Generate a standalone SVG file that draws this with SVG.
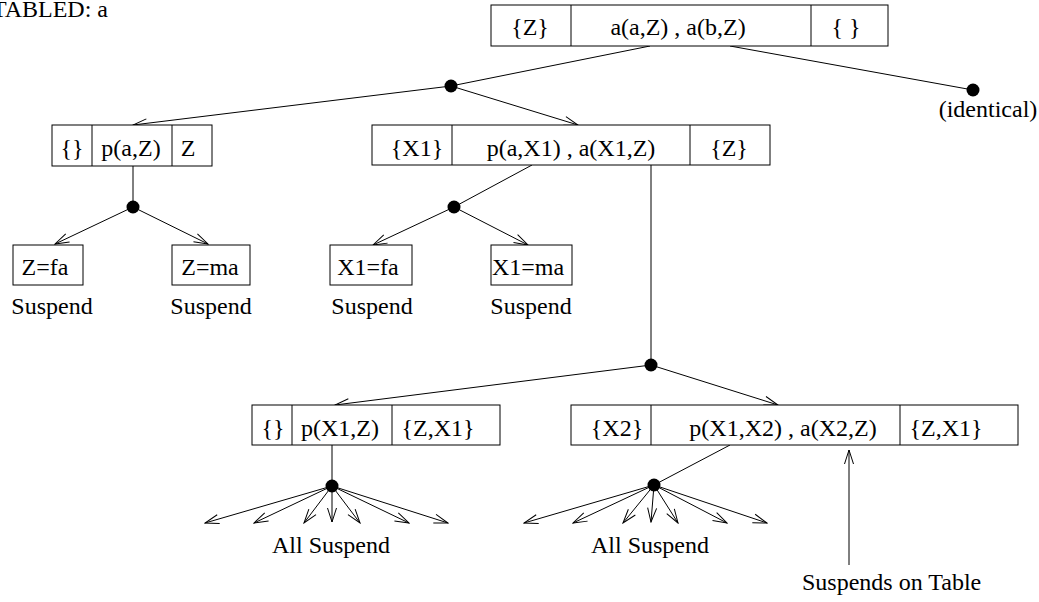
<svg xmlns="http://www.w3.org/2000/svg" width="1039" height="602" viewBox="0 0 1039 602" font-family="'Liberation Serif', 'Times New Roman', serif" font-size="24">
  <defs>
    <marker id="open-arrow" viewBox="-15 -6 16 12" refX="0" refY="0" markerWidth="16" markerHeight="12" markerUnits="userSpaceOnUse" orient="auto">
      <path d="M-14,-4.5 L0,0 L-14,4.5" fill="none" stroke="#000" stroke-width="1"/>
    </marker>
  </defs>
  <style>
    text { font-family: 'Liberation Serif', 'Times New Roman', serif; font-size: 24px; fill: #000; }
    .c { text-anchor: middle; }
    .box { fill: #fff; stroke: #000; stroke-width: 1; }
    .div { stroke: #000; stroke-width: 1; }
    .edge { stroke: #000; stroke-width: 1; fill: none; }
    .arrow { stroke: #000; stroke-width: 1; fill: none; marker-end: url(#open-arrow); }
    .dot { fill: #000; }
  </style>
  <rect width="1039" height="602" fill="#fff"/>

  <text x="108" y="17" text-anchor="end">TABLED: a</text>

  <!-- connectors -->
  <g id="connectors">
    <line class="edge" x1="650" y1="46" x2="451" y2="86"/>
    <line class="edge" x1="730" y1="46" x2="973" y2="90"/>
    <line class="arrow" x1="451" y1="86" x2="133" y2="125"/>
    <line class="arrow" x1="451" y1="86" x2="578" y2="125"/>

    <line class="edge" x1="133" y1="166" x2="133" y2="207"/>
    <line class="arrow" x1="133" y1="207" x2="55" y2="244"/>
    <line class="arrow" x1="133" y1="207" x2="208" y2="244"/>

    <line class="edge" x1="532" y1="165" x2="454" y2="207"/>
    <line class="arrow" x1="454" y1="207" x2="373" y2="245"/>
    <line class="arrow" x1="454" y1="207" x2="528" y2="245"/>

    <line class="edge" x1="651" y1="165" x2="651" y2="365"/>
    <line class="arrow" x1="651" y1="365" x2="335" y2="405"/>
    <line class="arrow" x1="651" y1="365" x2="778" y2="405"/>

    <line class="edge" x1="332" y1="445" x2="332" y2="486"/>
    <line class="arrow" x1="332" y1="486" x2="205" y2="523"/>
    <line class="arrow" x1="332" y1="486" x2="254" y2="523"/>
    <line class="arrow" x1="332" y1="486" x2="304" y2="523"/>
    <line class="arrow" x1="332" y1="486" x2="332" y2="522"/>
    <line class="arrow" x1="332" y1="486" x2="360" y2="523"/>
    <line class="arrow" x1="332" y1="486" x2="409" y2="523"/>
    <line class="arrow" x1="332" y1="486" x2="448" y2="523"/>

    <line class="edge" x1="730" y1="445" x2="654" y2="485"/>
    <line class="arrow" x1="654" y1="485" x2="524" y2="523"/>
    <line class="arrow" x1="654" y1="485" x2="573" y2="523"/>
    <line class="arrow" x1="654" y1="485" x2="623" y2="523"/>
    <line class="arrow" x1="654" y1="485" x2="651" y2="522"/>
    <line class="arrow" x1="654" y1="485" x2="678" y2="523"/>
    <line class="arrow" x1="654" y1="485" x2="727" y2="523"/>
    <line class="arrow" x1="654" y1="485" x2="767" y2="523"/>

    <line class="arrow" x1="849" y1="565" x2="849" y2="450"/>

    <circle class="dot" cx="451" cy="86" r="6.5"/>
    <circle class="dot" cx="973" cy="90" r="6.5"/>
    <circle class="dot" cx="133" cy="207" r="6.5"/>
    <circle class="dot" cx="454" cy="207" r="6.5"/>
    <circle class="dot" cx="651" cy="365" r="6.5"/>
    <circle class="dot" cx="332" cy="486" r="6.5"/>
    <circle class="dot" cx="654" cy="485" r="6.5"/>
  </g>

  <!-- root goal -->
  <g id="root">
    <rect class="box" x="491" y="5" width="397" height="41"/>
    <line class="div" x1="571" y1="5" x2="571" y2="46"/>
    <line class="div" x1="811" y1="5" x2="811" y2="46"/>
    <text class="c" x="530" y="35">{Z}</text>
    <text class="c" x="678" y="35">a(a,Z) , a(b,Z)</text>
    <text class="c" x="846" y="35">{ }</text>
  </g>

  <g id="identical">
    <text class="c" x="988" y="117">(identical)</text>
  </g>

  <!-- second level -->
  <g id="goal-paZ">
    <rect class="box" x="52" y="125" width="160" height="41"/>
    <line class="div" x1="92" y1="125" x2="92" y2="166"/>
    <line class="div" x1="172" y1="125" x2="172" y2="166"/>
    <text class="c" x="72" y="156">{}</text>
    <text class="c" x="131" y="156">p(a,Z)</text>
    <text class="c" x="188" y="156">Z</text>
  </g>

  <g id="goal-paX1">
    <rect class="box" x="372" y="125" width="398" height="40"/>
    <line class="div" x1="452" y1="125" x2="452" y2="165"/>
    <line class="div" x1="690" y1="125" x2="690" y2="165"/>
    <text class="c" x="417" y="156">{X1}</text>
    <text class="c" x="571" y="156">p(a,X1) , a(X1,Z)</text>
    <text class="c" x="729" y="156">{Z}</text>
  </g>

  <!-- answers -->
  <g id="ans-Zfa">
    <rect class="box" x="13" y="245" width="70" height="40"/>
    <text class="c" x="45" y="275">Z=fa</text>
    <text class="c" x="52" y="314">Suspend</text>
  </g>
  <g id="ans-Zma">
    <rect class="box" x="172" y="245" width="78" height="40"/>
    <text class="c" x="210" y="275">Z=ma</text>
    <text class="c" x="211" y="314">Suspend</text>
  </g>
  <g id="ans-X1fa">
    <rect class="box" x="330" y="245" width="82" height="40"/>
    <text class="c" x="368" y="275">X1=fa</text>
    <text class="c" x="372" y="314">Suspend</text>
  </g>
  <g id="ans-X1ma">
    <rect class="box" x="491" y="245" width="81" height="40"/>
    <text class="c" x="528" y="275">X1=ma</text>
    <text class="c" x="531" y="314">Suspend</text>
  </g>

  <!-- third level -->
  <g id="goal-pX1Z">
    <rect class="box" x="252" y="405" width="248" height="40"/>
    <line class="div" x1="292" y1="405" x2="292" y2="445"/>
    <line class="div" x1="392" y1="405" x2="392" y2="445"/>
    <text class="c" x="273" y="436">{}</text>
    <text class="c" x="340" y="436">p(X1,Z)</text>
    <text class="c" x="438" y="436">{Z,X1}</text>
    <text class="c" x="331" y="553">All Suspend</text>
  </g>

  <g id="goal-pX1X2">
    <rect class="box" x="571" y="405" width="447" height="40"/>
    <line class="div" x1="651" y1="405" x2="651" y2="445"/>
    <line class="div" x1="900" y1="405" x2="900" y2="445"/>
    <text class="c" x="617" y="436">{X2}</text>
    <text class="c" x="783" y="436">p(X1,X2) , a(X2,Z)</text>
    <text class="c" x="946" y="436">{Z,X1}</text>
    <text class="c" x="650" y="553">All Suspend</text>
  </g>

  <g id="table-note">
    <text x="802" y="590">Suspends on Table</text>
  </g>
</svg>
